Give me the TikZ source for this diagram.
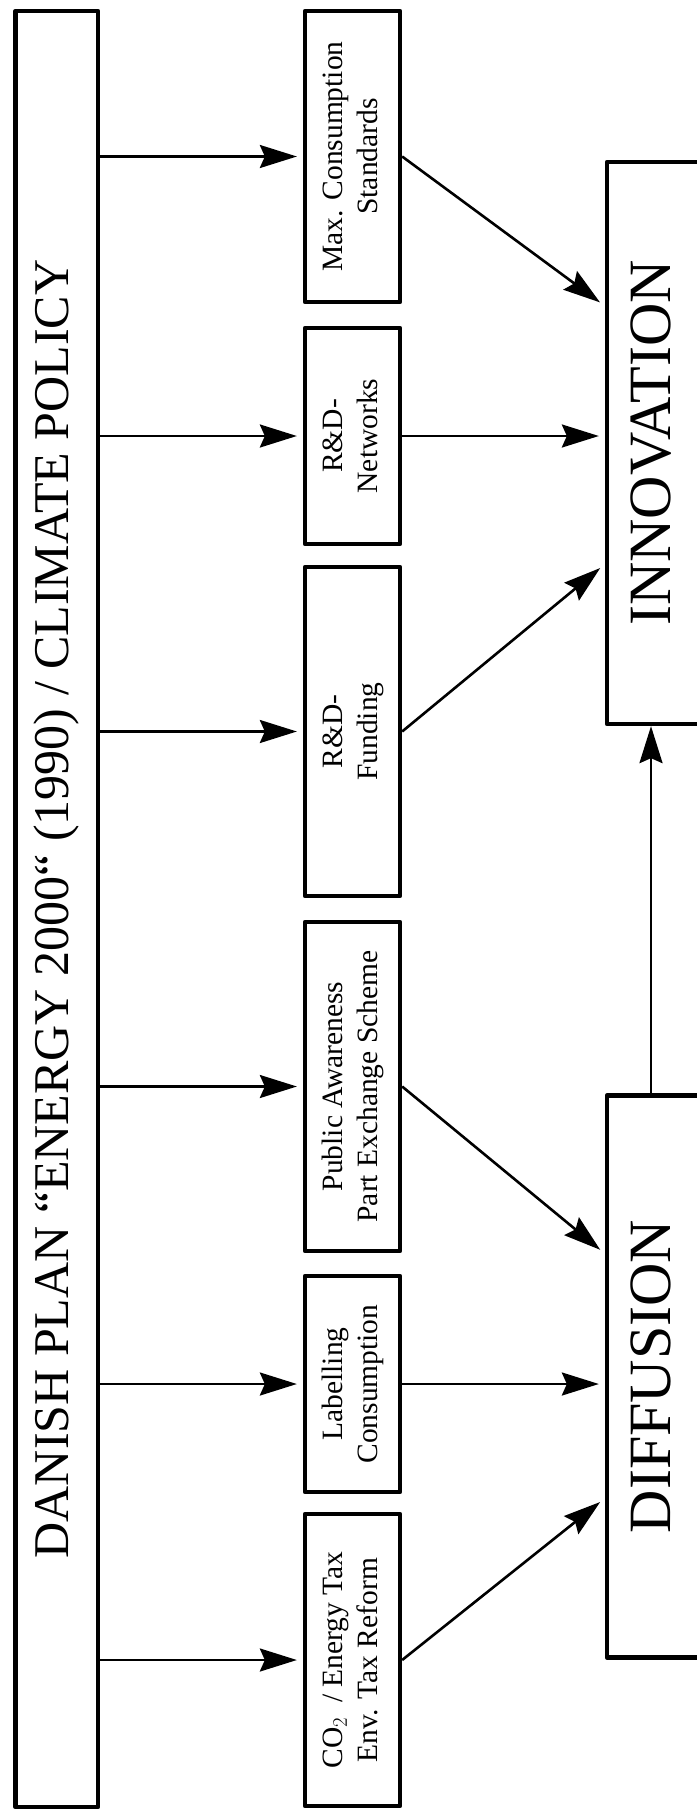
\documentclass[tikz,border=0pt]{standalone}
\usepackage{fontspec}
\setmainfont{Liberation Serif}
\usetikzlibrary{arrows.meta,calc}

\begin{document}
\begin{tikzpicture}[x=1pt, y=-1pt,
    frame/.style={draw, line width=4.3pt, line join=round, inner sep=0pt},
    measure/.style={frame, minimum width=95pt, font=\fontsize{29.5}{35}\selectfont},
    stage/.style={frame, minimum width=113pt, minimum height=562pt, font=\fontsize{60}{72}\selectfont},
    link/.style={line width=2.6pt, -{Stealth[length=37pt, width=23pt, inset=5pt]}, shorten >=6pt}]
  % #1 = lines of the text, set bottom to top
  \newcommand{\sidetext}[1]{\rotatebox{90}{\begin{tabular}{@{}c@{}}#1\end{tabular}}}

  \useasboundingbox (0,0) rectangle (696,1812);

  \node[frame, minimum width=82.5pt, minimum height=1796pt, font=\fontsize{50}{60}\selectfont] (plan) at (56.75,909)
    {\sidetext{DANISH PLAN “ENERGY 2000“ (1990) / CLIMATE POLICY}};

  \node[measure, minimum height=291pt] (maxc)   at (352.5,156.5)  {\sidetext{Max. Consumption\\Standards}};
  \node[measure, minimum height=216pt] (rdnet)  at (352.5,436)    {\sidetext{R\&D-\\Networks}};
  \node[measure, minimum height=329pt] (rdfund) at (352.5,731.5)  {\sidetext{R\&D-\\Funding}};
  \node[measure, minimum height=329pt] (aware)  at (352.5,1086.5) {\sidetext{Public Awareness\\Part Exchange Scheme}};
  \node[measure, minimum height=216pt] (label)  at (352.5,1384)   {\sidetext{Labelling\\Consumption}};
  \node[measure, minimum height=292pt] (tax)    at (352.5,1660)   {\sidetext{CO$_2$ \ / Energy Tax\\Env. Tax Reform}};

  \node[stage] (innov) at (663.5,443)    {\rotatebox{90}{INNOVATION}\hspace*{25pt}};
  \node[stage] (diff)  at (663.5,1376.5) {\rotatebox{90}{DIFFUSION}\hspace*{25pt}};

  \foreach \m in {maxc,rdnet,rdfund,aware,label,tax}
    \draw[link] (plan.east |- \m) -- (\m.west);

  \draw[link] (maxc.east)   -- ($(innov.north west)!0.258!(innov.south west)$);
  \draw[link] (rdnet.east)  -- (rdnet.east -| innov.west);
  \draw[link] (rdfund.east) -- ($(innov.north west)!0.714!(innov.south west)$);
  \draw[link] (aware.east)  -- ($(diff.north west)!0.283!(diff.south west)$);
  \draw[link] (label.east)  -- (label.east -| diff.west);
  \draw[link] (tax.east)    -- ($(diff.north west)!0.715!(diff.south west)$);
  \draw[link, shorten >=0pt] ([xshift=-12.5pt]diff.north) -- ([xshift=-12.5pt]innov.south);
\end{tikzpicture}
\end{document}
